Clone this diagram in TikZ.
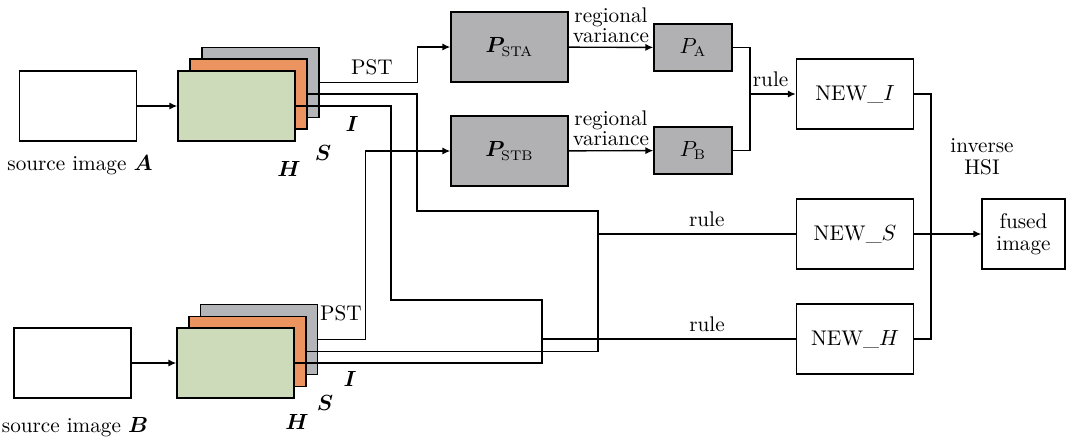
\documentclass[tikz,border=0pt]{standalone}
\usepackage{amsmath,amssymb}
\usepackage{bm}
\usepackage{tikz}
\usetikzlibrary{arrows.meta}

\definecolor{layergray}{RGB}{180,181,184}
\definecolor{layerorange}{RGB}{235,148,95}
\definecolor{layergreen}{RGB}{205,219,187}
\definecolor{boxgray}{RGB}{177,177,179}

\tikzset{
	plain/.style={draw, line width=0.7pt, inner sep=0pt, minimum width=58.5pt, minimum height=35pt},
	layer/.style={plain, fill=#1},
	pbox/.style={plain, fill=boxgray},
	smallbox/.style={plain, fill=boxgray, minimum width=39pt, minimum height=23.5pt},
	wire/.style={line width=0.7pt},
	>={Latex[length=4pt,width=3.6pt]}
}

\begin{document}
\begin{tikzpicture}[x=0.5pt,y=-0.5pt,font=\fontsize{10.6}{12}\selectfont]
		\useasboundingbox (0,0) rectangle (1072,441);
		% SOURCE IMAGES
		\node [plain] (srcA) at (78,106) {};
		\node [plain] (srcB) at (72.5,363) {};
		\node (labA) at (80,165) {source image $\bm{A}$};
		\node (labB) at (75,427) {source image $\bm{B}$};
		% HSI LAYERS OF A (back to front)
		\node [layer=layergray] (iA) at (260.5,82.5) {};
		\node [layer=layerorange] (sA) at (248.5,94) {};
		\node [layer=layergreen] (hA) at (236.5,106) {};
		\node (tiA) at (352,124) {$\bm{I}$};
		\node (tsA) at (323,153) {$\bm{S}$};
		\node (thA) at (289,169) {$\bm{H}$};
		% HSI LAYERS OF B
		\node [layer=layergray] (iB) at (259,339.5) {};
		\node [layer=layerorange] (sB) at (247.5,351.5) {};
		\node [layer=layergreen] (hB) at (235.5,363) {};
		\node (tiB) at (350,379) {$\bm{I}$};
		\node (tsB) at (325,403) {$\bm{S}$};
		\node (thB) at (297,422) {$\bm{H}$};
		% PST AND VARIANCE BOXES
		\node [pbox] (pstA) at (509.5,47) {$\bm{P}_{\mathrm{STA}}$};
		\node [pbox] (pstB) at (509.5,151) {$\bm{P}_{\mathrm{STB}}$};
		\node [smallbox] (pA) at (693,47.5) {$P_{\mathrm{A}}$};
		\node [smallbox] (pB) at (693,150.5) {$P_{\mathrm{B}}$};
		% NEW CHANNELS AND RESULT
		\node [plain] (newI) at (855,94) {NEW\_$I$};
		\node [plain] (newS) at (855,234) {NEW\_$S$};
		\node [plain] (newH) at (855,339) {NEW\_$H$};
		\node [plain, minimum width=41.5pt, align=center] (fused) at (1023.5,234) {fused\\[-1pt]image};
		\node [align=center] (inv) at (982,157) {inverse\\[-1pt]HSI};
		% turning points of the wires
		\coordinate (sTurn) at (417,211);
		\coordinate (sMerge) at (598,234);
		\coordinate (hTurn) at (391,300);
		\coordinate (hMerge) at (542,339);
		\coordinate (iMerge) at (750,94);
		\coordinate (oMerge) at (931,234);
		% INPUT ARROWS
		\draw [->,wire] (srcA) -- (hA);
		\draw [->,wire] (srcB) -- (hB);
		% I CHANNEL
		\draw [->,wire] (iA.east) -- ++(98,0) |- (pstA.west);
		\node (pstlA) at (372,67) {PST};
		\draw [->,wire] (iB.east) -- ++(47,0) |- (pstB.west);
		\node (pstlB) at (341,313) {PST};
		\draw [->,wire] (pstA) -- node [above, align=center, inner sep=2pt] {regional\\[-2pt]variance} (pA);
		\draw [->,wire] (pstB) -- node [above, align=center, inner sep=2pt] {regional\\[-2pt]variance} (pB);
		\draw [wire] (pA.east) -| (iMerge) |- (pB.east);
		\draw [->,wire] (iMerge) -- node [above, pos=0.45] {rule} (newI);
		% S CHANNEL
		\draw [wire] (sA.east) -| (sTurn) -| (sMerge) |- (sB.east);
		\draw [wire] (sMerge) -- node [above, pos=0.55] {rule} (newS);
		% H CHANNEL
		\draw [wire] (hA.east) -| (hTurn) -| (hMerge) |- (hB.east);
		\draw [wire] (hMerge) -- node [above, pos=0.65] {rule} (newH);
		% INVERSE HSI
		\draw [wire] (newI.east) -| (oMerge) |- (newH.east);
		\draw [->,wire] (newS) -- (fused);
\end{tikzpicture}
\end{document}
